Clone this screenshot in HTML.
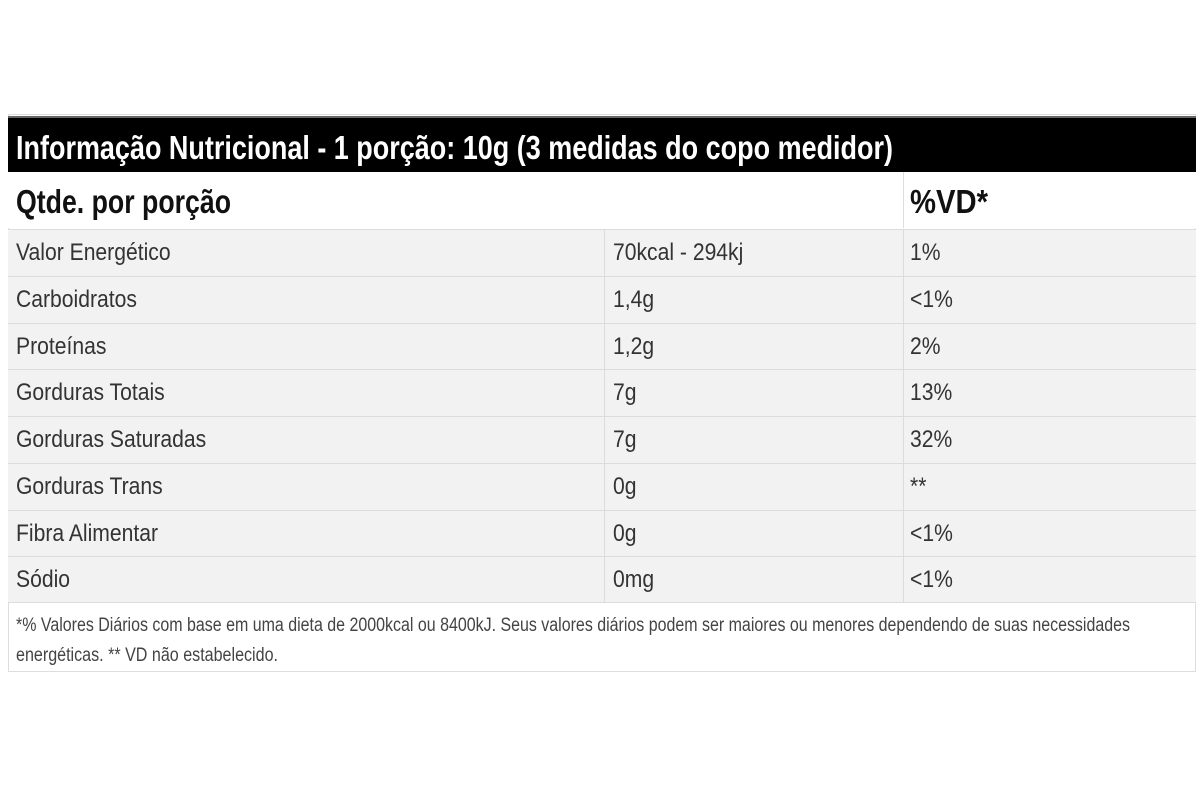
<!DOCTYPE html>
<html><head><meta charset="utf-8">
<style>
body{margin:0;width:1200px;height:800px;background:#fff;position:relative;overflow:hidden;font-family:"Liberation Sans",sans-serif}
.abs{position:absolute}
.t{position:absolute;white-space:nowrap;transform-origin:0 50%;line-height:1}
.row{position:absolute;left:8px;width:1188px;height:46px;background:#f2f2f2;border-top:1px solid #dcdcdc}
.cell{color:#333;font-size:24px}
</style></head><body>
<div class="abs" style="left:8px;top:114px;width:1188px;height:558px;border:1px solid #ddd;box-sizing:border-box"></div>
<div class="abs" style="left:8px;top:116px;width:1188px;height:56px;background:#000;border-top:2px solid #666;box-sizing:border-box"></div>
<span class="t" data-w="877" style="left:16px;top:131px;color:#fff;font-weight:bold;font-size:33px">Informação Nutricional - 1 porção: 10g (3 medidas do copo medidor)</span>
<div class="abs" style="left:8px;top:172px;width:1188px;height:56px;background:#fff"></div>
<div class="abs" style="left:903px;top:172px;width:1px;height:56px;background:#ddd"></div>
<span class="t" data-w="215" style="left:16px;top:185px;color:#111;font-weight:bold;font-size:33px">Qtde. por porção</span>
<span class="t" data-w="78" style="left:910px;top:185px;color:#111;font-weight:bold;font-size:33px">%VD*</span>
<div id="rows"></div>
<div class="abs" style="left:604px;top:229px;width:1px;height:374px;background:#dcdcdc"></div>
<div class="abs" style="left:903px;top:229px;width:1px;height:374px;background:#dcdcdc"></div>
<div class="abs" style="left:8px;top:602px;width:1188px;height:1px;background:#dcdcdc"></div>
<span class="t" data-w="1114" style="left:16px;top:616px;color:#444;font-size:19px">*% Valores Diários com base em uma dieta de 2000kcal ou 8400kJ. Seus valores diários podem ser maiores ou menores dependendo de suas necessidades</span>
<span class="t" data-w="262" style="left:16px;top:646px;color:#444;font-size:19px">energéticas. ** VD não estabelecido.</span>
<script>
const nutrients=["Valor Energético","Carboidratos","Proteínas","Gorduras Totais","Gorduras Saturadas","Gorduras Trans","Fibra Alimentar","Sódio"];
const amounts=["70kcal - 294kj","1,4g","1,2g","7g","7g","0g","0g","0mg"];
const dailyValues=["1%","<1%","2%","13%","32%","**","<1%","<1%"];
const rows=document.getElementById('rows');
const top0=229,rh=46.75;
nutrients.forEach((n,i)=>{
  const y=top0+i*rh;
  const r=document.createElement('div');
  r.className='row';r.style.top=y+'px';
  
  
  rows.appendChild(r);
  [[n,16,'nutrient-name'],[amounts[i],613,'amount'],[dailyValues[i],910,'daily-value']].forEach(([txt,x,nm])=>{
    const s=document.createElement('span');
    s.className='t cell';s.textContent=txt;
    s.style.left=x+'px';s.style.top=(y+12)+'px';
    s.style.transform='scaleX(0.88)';
    
    
    document.body.appendChild(s);
  });
});
document.querySelectorAll('[data-w]').forEach(s=>{
  const w=s.getBoundingClientRect().width;
  s.style.transform='scaleX('+(parseFloat(s.dataset.w)/w)+')';
});
</script>
</body></html>
